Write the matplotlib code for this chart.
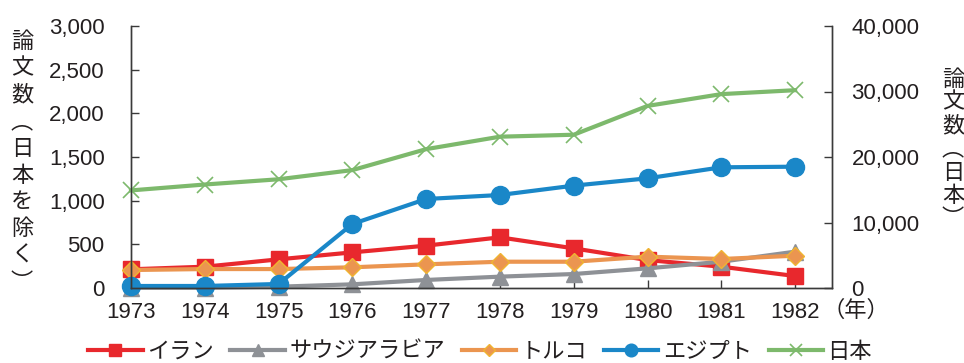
import matplotlib.pyplot as plt
from matplotlib.ticker import FuncFormatter

plt.rcParams['font.family'] = ['Liberation Sans', 'Noto Sans CJK JP']
plt.rcParams['font.size'] = 16

years = [1973, 1974, 1975, 1976, 1977, 1978, 1979, 1980, 1981, 1982]

# papers per year (left axis), Japan on its own scale (right axis)
iran = [214, 244, 328, 408, 485, 580, 454, 320, 244, 137]
saudi = [5, 5, 15, 42, 92, 130, 160, 225, 301, 416]
turkey = [206, 217, 217, 237, 271, 301, 301, 359, 332, 370]
egypt = [23, 23, 46, 733, 1019, 1065, 1172, 1256, 1382, 1389]
japan = [14900, 15800, 16600, 18000, 21200, 23100, 23400, 27800, 29600, 30200]

names = ['イラン', 'サウジアラビア', 'トルコ', 'エジプト', '日本']
text_color = '#231f20'
W, H = 964, 363

fig = plt.figure(figsize=(W / 100, H / 100), dpi=100)
ax = fig.add_axes([131 / W, 1 - 288 / H, (832 - 131) / W, (288 - 26) / H])
ax2 = ax.twinx()

lw = 3
h1, = ax.plot(years, iran, color='#e8282d', lw=lw, marker='s', ms=11.5, clip_on=False)
h2, = ax.plot(years, saudi, color='#8e9196', lw=lw, marker='^', ms=12, clip_on=False)
h3, = ax.plot(years, turkey, color='#eb9550', lw=lw, marker='D', ms=9,
              mec='#f0b430', mew=1, clip_on=False)
h4, = ax.plot(years, egypt, color='#1a87c8', lw=lw, marker='o', ms=13, clip_on=False)
h5, = ax2.plot(years, japan, color='#7db96c', lw=lw, marker='x', ms=12, mew=1.2, clip_on=False)

ax.set_xlim(1973, 1982.5)
ax.set_ylim(0, 3000)
ax2.set_ylim(0, 40000)
ax.set_xticks(years)
ax.set_yticks(range(0, 3001, 500))
ax2.set_yticks(range(0, 40001, 10000))

comma = FuncFormatter(lambda v, p: f'{int(v):,}')
ax.yaxis.set_major_formatter(comma)
ax2.yaxis.set_major_formatter(comma)

for a in (ax, ax2):
    a.spines['top'].set_visible(False)
    for s in a.spines.values():
        s.set_color('#3a3a3a')
        s.set_linewidth(1)
    a.tick_params(direction='in', length=6, width=1, color='#3a3a3a', labelcolor=text_color)
ax.tick_params(axis='y', pad=19)
ax.tick_params(axis='x', pad=10)
ax2.tick_params(axis='y', pad=14)

fig.text(822 / W, 1 - 311 / H, '（年）', ha='left', va='center', color=text_color)


def vertical_label(text, x, y_first, step):
    # stack the characters one per row, top to bottom
    for i, ch in enumerate(text):
        fig.text(x / W, 1 - (y_first + i * step) / H, ch, ha='center', va='center',
                 color=text_color, fontsize=16)


vertical_label('論文数︵日本を除く︶', 22, 42, 26.8)
vertical_label('論文数︵日本︶', 953, 80, 23.3)

fig.legend([h1, h2, h3, h4, h5], names, loc='center', bbox_to_anchor=(480 / W, 1 - 352 / H),
           ncol=5, frameon=False, handlelength=2.45, handletextpad=0.2,
           columnspacing=0.75, markerscale=0.7, labelcolor=text_color, borderpad=0)

fig.savefig('out.png', dpi=100)
